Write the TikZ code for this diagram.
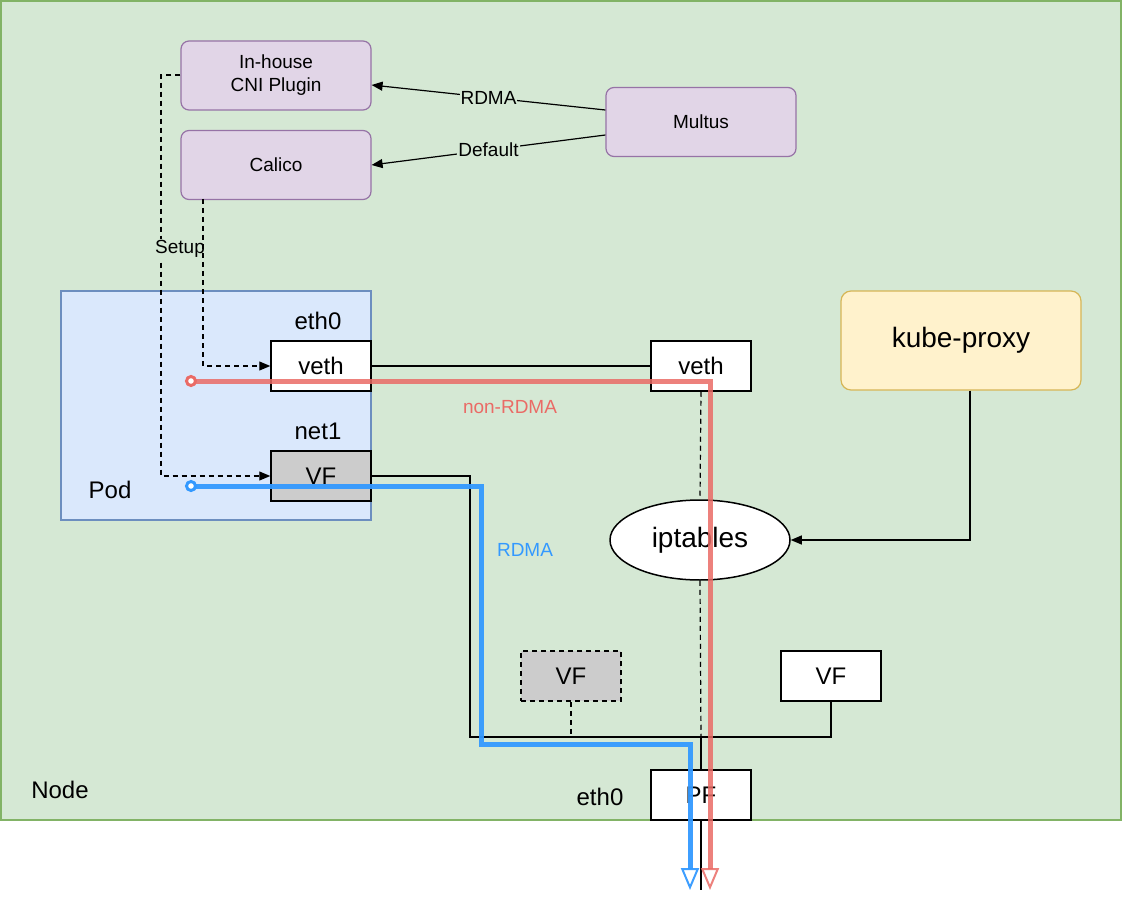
\documentclass[tikz,border=0pt]{standalone}
\usepackage{fontspec}
\setmainfont{Liberation Sans}
\usetikzlibrary{arrows.meta,shapes.geometric}
\definecolor{nodebg}{HTML}{D5E8D4}\definecolor{nodest}{HTML}{82B366}
\definecolor{podbg}{HTML}{DAE8FC}\definecolor{podst}{HTML}{6C8EBF}
\definecolor{purbg}{HTML}{E1D5E7}\definecolor{purst}{HTML}{9673A6}
\definecolor{yelbg}{HTML}{FFF2CC}\definecolor{yelst}{HTML}{D6B656}
\definecolor{redp}{HTML}{EA6B66}\definecolor{bluep}{HTML}{3399FF}
\newcommand{\fs}[1]{\fontsize{#1}{#1}\selectfont}
\tikzset{x=1pt,y=-1pt,
 box/.style={draw,line width=1.5pt,fill=white,minimum width=100pt,minimum height=50pt,inner sep=0pt,font=\fs{24}},
 grey/.style={box,fill=black!20},
 plug/.style={draw=purst,fill=purbg,rounded corners=8pt,line width=1.2pt,minimum width=190pt,minimum height=69pt,align=center,font=\fontsize{19}{23}\selectfont},
 lbl/.style={font=\fs{24},inner sep=0pt},
 wire/.style={line width=1.2pt},
 dwire/.style={line width=1.2pt,dash pattern=on 5pt off 4pt},
 arr/.style={-{Triangle[length=11pt,width=9pt]}},
 path/.style={line width=5pt,-{Triangle[open,length=22pt,width=18pt,line width=2pt]}},
}
\begin{document}
\begin{tikzpicture}
\useasboundingbox (0,0) rectangle (1122,912);
\fill[white] (0,0) rectangle (1122,912);
\draw[draw=nodest,fill=nodebg,line width=1.5pt] (1,1) rectangle (1121,820);
\node[lbl] (nodelbl) at (60,790) {Node};
\draw[draw=podst,fill=podbg,line width=1.5pt] (61,291) rectangle (371,520);
\node[lbl] (podlbl) at (110,490) {Pod};
\node[plug] (cni) at (276,75.5) {In-house\\CNI Plugin};
\node[plug] (calico) at (276,165) {Calico};
\node[plug] (multus) at (701,122) {Multus};
\node[draw=yelst,fill=yelbg,rounded corners=10pt,line width=1.2pt,minimum width=240pt,minimum height=99pt,font=\fs{28}] (kp) at (961,340.5) {kube-proxy};
\node[box] (vethp) at (321,366) {veth};
\node[lbl] (eth0p) at (318,321) {eth0};
\node[box] (vethr) at (701,366) {veth};
\node[lbl] (net1) at (318,431) {net1};
\node[grey] (vfp) at (321,476) {VF};
\node[draw,line width=1.5pt,fill=white,ellipse,minimum width=180pt,minimum height=80pt,inner sep=0pt,font=\fs{28}] (ipt) at (700,540) {iptables};
\node[grey,dash pattern=on 5pt off 4pt] (vfd) at (571,676) {VF};
\node[box] (vfr) at (831,676) {VF};
\node[box] (pf) at (701,795) {PF};
\node[lbl] (eth0n) at (600,797) {eth0};
\coordinate (j) at (701,737);
\coordinate (bot) at (701,890);
% multus arrows
\draw[wire,arr] (multus.west |- 0,110) -- node[fill=nodebg,inner sep=1pt,font=\fs{19}] {RDMA} (cni.east |- 0,85);
\draw[wire,arr] (multus.west |- 0,135) -- node[fill=nodebg,inner sep=1pt,font=\fs{19}] {Default} (calico.east |- 0,165);
% setup
\draw[dwire,arr] (cni.west |- 0,75) -| (161,476) -- (vfp.west);
\node[fill=nodebg,inner sep=1pt,font=\fs{19}] (setup) at (180,249) {Setup};
\draw[dwire,arr] (203,199) -- (203,366) -- (vethp.west);
% links
\draw[wire] (vethp) -- (vethr);
\draw[dwire] (vethr.south) -- (ipt.north);
\draw[dwire] (ipt.south) -- (j);
\draw[dwire] (vfd.south) |- (j);
\draw[wire] (vfp.east) -- (470,476) |- (j);
\draw[wire] (vfr.south) |- (j);
\draw[wire] (j) -- (pf.north);
\draw[wire] (pf.south) -- (bot);
\draw[wire,arr] (kp.south -| 970,0) |- (ipt.east);
% paths
\draw[path,draw=redp,opacity=0.85] (191,381) -- (710,381) -- (710,890);
\draw[line width=3pt,draw=redp,fill=white] (191,381) circle (4.5pt);
\draw[path,draw=bluep,opacity=0.95] (191,486) -- (481,486) -- (481,744) -- (690,744) -- (690,890);
\draw[line width=3pt,draw=bluep,fill=white] (191,486) circle (4.5pt);
\node[text=redp,font=\fs{19}] (nr) at (510,407) {non-RDMA};
\node[text=bluep,font=\fs{19}] (rd) at (525,550) {RDMA};
\end{tikzpicture}
\end{document}
